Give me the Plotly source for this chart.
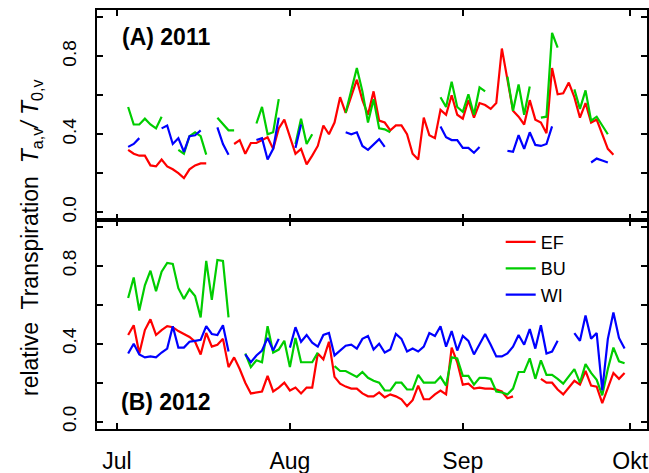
import pandas as pd
import plotly.graph_objects as go

N = None
# day 0 = 1 July; one value per day, None = no data
start_2011 = "2011-07-01"
start_2012 = "2012-07-01"

EF_2011 = [N, N, 0.32, 0.30, 0.29, 0.29, 0.24, 0.235, 0.27, 0.235, 0.22, 0.20, 0.175, 0.22, 0.24, 0.25, 0.25,
           N, N, N, N, 0.35, 0.37, 0.30, 0.355, 0.355, 0.37, 0.385, 0.325, 0.43, 0.475, 0.385, 0.30, 0.325,
           0.245, 0.29, 0.34, 0.445, 0.40, 0.46, 0.59, 0.51, 0.60, 0.68, 0.575, 0.50, 0.62, 0.47, 0.46, 0.42,
           0.445, 0.445, 0.40, 0.30, 0.27, 0.485, 0.395, 0.38, 0.525, 0.50, 0.60, 0.50, 0.48, 0.575, 0.485,
           0.56, 0.55, 0.53, 0.56, 0.84, 0.68, 0.52, 0.49, 0.45, 0.575, 0.475, 0.46, 0.405, 0.74, 0.605, 0.61,
           0.665, 0.59, 0.485, 0.56, 0.46, 0.475, 0.40, 0.325, 0.295, N, N]
BU_2011 = [N, N, 0.54, 0.45, 0.45, 0.48, 0.45, 0.43, 0.49, N, N, 0.32, 0.30, 0.39, 0.41, 0.39, 0.295,
           N, 0.485, 0.45, 0.42, 0.42, N, N, N, 0.455, 0.54, 0.40, 0.41, 0.58, N, N, 0.35, 0.48, 0.35, 0.40,
           N, N, N, N, N, 0.51, 0.62, 0.74, 0.62, 0.46, 0.58, 0.43, 0.425, 0.41, N, N, N, N, N, N, N, N,
           0.59, 0.54, 0.67, 0.54, 0.515, 0.605, 0.50, 0.64, 0.62, N, N, N, 0.695, 0.52, 0.655, 0.50, 0.645,
           N, 0.485, 0.49, 0.92, 0.845, N, N, 0.63, 0.53, 0.625, 0.47, 0.49, 0.445, 0.40, N, N, N]
WI_2011 = [N, N, 0.335, 0.35, 0.38, N, N, N, 0.43, 0.445, 0.35, 0.38, 0.31, 0.39, 0.395, 0.42, N, N,
           0.435, 0.35, 0.295, N, N, N, N, 0.37, 0.38, 0.27, 0.325, 0.485, N, N, 0.33, 0.45, N, N, N, N, N,
           N, N, 0.41, 0.40, 0.41, 0.34, 0.32, 0.35, 0.375, 0.335, N, N, N, N, N, N, N, N, N,
           0.44, 0.385, 0.37, 0.37, 0.33, 0.33, 0.305, 0.335, N, N, N, N, 0.315, 0.31, 0.395, 0.325, 0.41,
           0.345, 0.34, 0.35, 0.44, N, N, N, N, N, N, 0.255, 0.275, 0.265, 0.255, N, N, N]

EF_2012 = [N, N, 0.445, 0.495, 0.35, 0.47, 0.525, 0.445, 0.47, 0.49, 0.485, 0.465, 0.45, 0.435, 0.41,
           0.345, 0.455, 0.385, 0.395, 0.425, 0.28, 0.33, 0.27, 0.20, 0.145, 0.15, 0.155, 0.235, 0.155, 0.175,
           0.20, 0.16, 0.175, 0.145, 0.175, 0.175, 0.35, 0.32, 0.41, 0.23, 0.195, 0.18, 0.17, 0.17, 0.145,
           0.13, 0.13, 0.15, 0.125, 0.14, 0.13, 0.115, 0.08, 0.11, 0.185, 0.115, 0.115, 0.14, 0.16, 0.14,
           0.38, 0.305, 0.19, 0.195, 0.17, 0.175, 0.17, 0.17, 0.165, 0.155, 0.12, 0.13, N, N, N, N,
           0.22, 0.20, 0.20, 0.165, 0.14, 0.175, 0.21, 0.19, 0.26, 0.185, 0.18, 0.095, 0.17, 0.25, 0.22, 0.25]
BU_2012 = [N, N, 0.635, 0.74, 0.57, 0.70, 0.775, 0.67, 0.77, 0.815, 0.81, 0.685, 0.63, 0.68, 0.645,
           0.535, 0.825, 0.625, 0.83, 0.825, 0.535, N, N, 0.35, 0.28, 0.315, 0.305, 0.49, 0.355, 0.37, 0.415,
           0.28, 0.43, 0.305, 0.305, 0.305, 0.355, N, N, 0.285, 0.26, 0.26, 0.245, 0.23, 0.255, 0.225, 0.21,
           0.20, 0.16, 0.16, 0.20, 0.20, 0.165, 0.165, 0.24, 0.20, 0.20, 0.20, 0.23, 0.185, 0.33, 0.325,
           0.235, 0.235, 0.19, 0.225, 0.225, 0.22, 0.155, 0.15, 0.14, 0.17, 0.255, 0.255, 0.325, 0.22, 0.315,
           0.24, 0.24, 0.22, 0.195, 0.235, 0.27, 0.20, 0.295, 0.25, 0.215, 0.135, 0.27, 0.38, 0.31, 0.30]
WI_2012 = [N, N, 0.35, 0.40, 0.345, 0.33, 0.335, 0.33, 0.355, 0.375, 0.49, 0.38, 0.38, 0.41, 0.415, 0.42,
           0.49, 0.45, 0.445, 0.495, 0.36, N, N, 0.345, 0.305, 0.34, 0.365, 0.43, 0.365, 0.425, N, 0.38,
           0.485, 0.41, 0.445, 0.405, 0.385, 0.445, 0.455, 0.34, 0.365, 0.39, 0.395, 0.375, 0.425, 0.44,
           0.37, 0.40, 0.355, 0.37, 0.45, 0.425, 0.36, 0.375, 0.36, 0.385, 0.455, 0.44, 0.49, 0.385, 0.465,
           0.365, 0.44, 0.415, 0.345, 0.395, 0.45, 0.395, 0.335, 0.335, 0.35, 0.385, 0.445, 0.395, 0.475,
           0.375, 0.495, 0.35, 0.36, 0.415, N, N, 0.455, 0.415, 0.545, 0.425, 0.455, 0.16, 0.425, 0.56, 0.43,
           0.375]

series_names = ["EF", "BU", "WI"]
series_colors = ["#FF0000", "#00CD00", "#0000FF"]
month_labels = ["Jul", "Aug", "Sep", "Okt"]
month_ticks_2011 = ["2011-07-01", "2011-08-01", "2011-09-01", "2011-10-01"]
month_ticks_2012 = ["2012-07-01", "2012-08-01", "2012-09-01", "2012-10-01"]
y_ticks = [0.0, 0.2, 0.4, 0.6, 0.8, 1.0]
y_ticktext = ["0.0", "", "0.4", "", "0.8", ""]
panel_labels = ["(A) 2011", "(B) 2012"]

dates_2011 = pd.date_range(start_2011, periods=len(EF_2011), freq="D")
dates_2012 = pd.date_range(start_2012, periods=len(EF_2012), freq="D")

FONT = "Liberation Sans, Arial, Helvetica, sans-serif"
fig = go.Figure()

for name, col, vals in zip(series_names, series_colors, [EF_2011, BU_2011, WI_2011]):
    fig.add_trace(go.Scatter(x=dates_2011, y=vals, mode="lines", name=name, showlegend=False,
                             line=dict(color=col, width=2.2), connectgaps=False,
                             xaxis="x", yaxis="y"))
for name, col, vals in zip(series_names, series_colors, [EF_2012, BU_2012, WI_2012]):
    fig.add_trace(go.Scatter(x=dates_2012, y=vals, mode="lines", name=name, showlegend=True,
                             line=dict(color=col, width=2.2), connectgaps=False,
                             xaxis="x2", yaxis="y2"))

axis_common = dict(showline=True, linecolor="black", linewidth=2, mirror="ticks",
                   ticks="inside", ticklen=6, tickwidth=1.5, tickcolor="black",
                   showgrid=False, zeroline=False, automargin=False)

x_range_2011 = ["2011-06-27 10:00", "2011-10-04 00:30"]
x_range_2012 = ["2012-06-27 10:00", "2012-10-04 00:30"]
y_range = [-0.0376, 1.0376]

fig.update_layout(
    template="none",
    width=649, height=473,
    margin=dict(l=97, r=2, t=10, b=44, autoexpand=False),
    paper_bgcolor="white", plot_bgcolor="white",
    font=dict(family=FONT, color="black", size=19),
    xaxis=dict(domain=[0, 1], anchor="y", type="date", range=x_range_2011,
               tickvals=month_ticks_2011, ticktext=month_labels, showticklabels=False, **axis_common),
    yaxis=dict(domain=[0.5, 1], anchor="x", range=y_range, tickvals=y_ticks, ticktext=y_ticktext,
               tickangle=-90, tickfont=dict(size=19), ticklabelstandoff=11, **axis_common),
    xaxis2=dict(domain=[0, 1], anchor="y2", type="date", range=x_range_2012,
                tickvals=month_ticks_2012, ticktext=month_labels, tickfont=dict(size=23),
                ticklabelstandoff=10, **axis_common),
    yaxis2=dict(domain=[0, 0.5], anchor="x2", range=y_range, tickvals=y_ticks, ticktext=y_ticktext,
                tickangle=-90, tickfont=dict(size=19), ticklabelstandoff=11, **axis_common),
    legend=dict(x=0.734, y=0.49, xanchor="left", yanchor="top", bgcolor="rgba(0,0,0,0)",
                font=dict(size=18), itemwidth=30, tracegroupgap=0),
    showlegend=True,
)

fig.add_annotation(text="<b>" + panel_labels[0] + "</b>", xref="paper", yref="paper",
                   x=(120 - 97) / 550, y=(429 - 37) / 419, xanchor="left", yanchor="middle",
                   showarrow=False, font=dict(size=23))
fig.add_annotation(text="<b>" + panel_labels[1] + "</b>", xref="paper", yref="paper",
                   x=(119 - 97) / 550, y=(429 - 402) / 419, xanchor="left", yanchor="middle",
                   showarrow=False, font=dict(size=23))
fig.add_annotation(text="relative  Transpiration  <i>T</i><sub>a,v</sub><i>/ T</i><sub>0,v</sub>",
                   xref="paper", yref="paper", x=(31 - 97) / 550, y=(429 - 238) / 419,
                   xanchor="center", yanchor="middle", textangle=-90, showarrow=False,
                   font=dict(size=23))

fig.write_html("out.html", config={"displayModeBar": False},
               post_script="document.body.style.margin='0';document.body.style.overflow='hidden';")
